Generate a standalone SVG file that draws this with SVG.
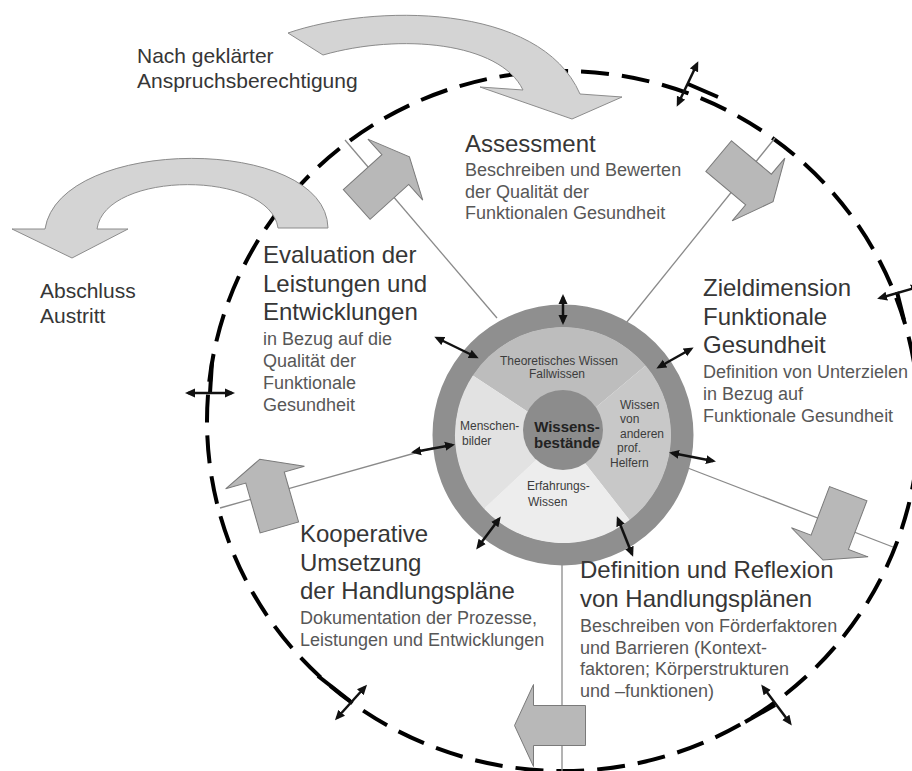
<svg xmlns="http://www.w3.org/2000/svg" width="912" height="771" viewBox="0 0 912 771">
<defs>
<marker id="ah" viewBox="0 0 10 10" refX="7" refY="5" markerWidth="4" markerHeight="4" orient="auto-start-reverse"><path d="M0,0.5 L10,5 L0,9.5 Z" fill="#111"/></marker>
<path id="blk" d="M-26,-20 L26,-20 L26,-41 L45,0 L26,41 L26,20 L-26,20 Z"/>
</defs>
<style>
.t{font-family:"Liberation Sans",Arial,sans-serif}
.h{font-size:24px;fill:#363636}
.s{font-size:18px;fill:#575757}
.o{font-size:21px;fill:#363636}
.k{font-size:12px;fill:#3c3c3c}
.b{font-size:15px;font-weight:bold;fill:#222}
.dash{fill:none;stroke:#000;stroke-width:4;stroke-dasharray:28 13}
.spoke{stroke:#8a8a8a;stroke-width:1.3;fill:none}
.blk{fill:#b8b8b8;stroke:#7a7a7a;stroke-width:1}
.curve{fill:#d4d4d4;stroke:#8c8c8c;stroke-width:1}
.dbl{stroke:#111;stroke-width:2.5;fill:none;marker-start:url(#ah);marker-end:url(#ah)}
.tick{stroke:#000;stroke-width:4;fill:none}
</style>
<rect x="0" y="0" width="912" height="771" fill="#fff"/>

<g id="outer-cycle">
<ellipse cx="563" cy="421" rx="356" ry="350" class="dash"/>
</g>

<g id="connectors">
<line class="spoke" x1="345" y1="140" x2="497" y2="318"/>
<line class="spoke" x1="775" y1="138" x2="622" y2="328"/>
<line class="spoke" x1="893" y1="547" x2="680" y2="465"/>
<line class="spoke" x1="220" y1="508" x2="440" y2="446"/>
<line class="spoke" x1="562" y1="771" x2="562" y2="555"/>
<use href="#blk" class="blk" transform="translate(376,187) rotate(-42)"/>
<use href="#blk" class="blk" transform="translate(738.6,172.8) rotate(40)"/>
<use href="#blk" class="blk" transform="translate(839,518) rotate(110.8)"/>
<use href="#blk" class="blk" transform="translate(559.5,725.5) rotate(180)"/>
<use href="#blk" class="blk" transform="translate(272.2,502.5) rotate(-106)"/>
<path class="curve" d="M288,33 C372,4 540,2 580,94 L622,97 L572,119 L480,87 L523,90 C500,42 400,33 323,55 Z"/>
<path class="curve" d="M328,228 C326,135 60,135 45,229 L12,229 L72,258 L128,229 L97,229 C105,170 270,170 278,228 Z"/>
<line class="tick" x1="688" y1="84" x2="718" y2="97"/>
<line class="tick" x1="897" y1="292" x2="904" y2="320"/>
<line class="tick" x1="210" y1="393" x2="212" y2="362"/>
<line class="tick" x1="350" y1="701" x2="318" y2="676"/>
<line class="tick" x1="775" y1="705" x2="745" y2="722"/>
<line class="dbl" x1="697" y1="64" x2="678" y2="104"/>
<line class="dbl" x1="880" y1="298" x2="918" y2="287"/>
<line class="dbl" x1="188" y1="393" x2="232" y2="393"/>
<line class="dbl" x1="365" y1="687" x2="337" y2="718"/>
<line class="dbl" x1="763" y1="687" x2="790" y2="723"/>
</g>

<g id="n-wissen">
<circle cx="563" cy="435" r="119" fill="none" stroke="#8f8f8f" stroke-width="23"/>
<path d="M563,435 L472.8,375.5 A108,108 0 0 1 645.7,365.6 Z" fill="#bdbdbd"/>
<path d="M563,435 L645.7,365.6 A108,108 0 0 1 629.5,520.1 Z" fill="#c8c8c8"/>
<path d="M563,435 L629.5,520.1 A108,108 0 0 1 484,508.7 Z" fill="#ededed"/>
<path d="M563,435 L484,508.7 A108,108 0 0 1 472.8,375.5 Z" fill="#e2e2e2"/>
<circle cx="563" cy="430" r="40" fill="#8c8c8c"/>
<text class="t k" x="559" y="365" text-anchor="middle">Theoretisches Wissen</text>
<text class="t k" x="557" y="378" text-anchor="middle">Fallwissen</text>
<text class="t k" x="460" y="430">Menschen-</text>
<text class="t k" x="462" y="445">bilder</text>
<text class="t b" x="567" y="432" text-anchor="middle">Wissens-</text>
<text class="t b" x="567" y="448" text-anchor="middle">bestände</text>
<text class="t k" x="620" y="409">Wissen</text>
<text class="t k" x="620" y="423">von</text>
<text class="t k" x="620" y="438">anderen</text>
<text class="t k" x="617" y="452">prof.</text>
<text class="t k" x="610" y="467">Helfern</text>
<text class="t k" x="527" y="490">Erfahrungs-</text>
<text class="t k" x="528" y="506">Wissen</text>
</g>

<g id="inner-links">
<line class="dbl" x1="563" y1="297" x2="563" y2="322"/>
<line class="dbl" x1="437" y1="338" x2="476" y2="357"/>
<line class="dbl" x1="659" y1="367" x2="691" y2="349"/>
<line class="dbl" x1="414" y1="452" x2="452" y2="445"/>
<line class="dbl" x1="672" y1="453" x2="713" y2="461"/>
<line class="dbl" x1="499" y1="519" x2="478" y2="547"/>
<line class="dbl" x1="618" y1="519" x2="632" y2="554"/>
</g>

<g id="n-nach">
<text class="t o" x="137" y="63">Nach geklärter</text>
<text class="t o" x="137" y="88">Anspruchsberechtigung</text>
</g>

<g id="n-abschluss">
<text class="t o" x="40" y="298">Abschluss</text>
<text class="t o" x="40" y="323">Austritt</text>
</g>

<g id="n-assessment">
<text class="t h" x="465" y="152">Assessment</text>
<text class="t s" x="465" y="176">Beschreiben und Bewerten</text>
<text class="t s" x="465" y="198">der Qualität der</text>
<text class="t s" x="465" y="219">Funktionalen Gesundheit</text>
</g>

<g id="n-evaluation">
<text class="t h" x="263" y="263">Evaluation der</text>
<text class="t h" x="263" y="292">Leistungen und</text>
<text class="t h" x="263" y="320">Entwicklungen</text>
<text class="t s" x="263" y="345">in Bezug auf die</text>
<text class="t s" x="263" y="367">Qualität der</text>
<text class="t s" x="263" y="389">Funktionale</text>
<text class="t s" x="263" y="411">Gesundheit</text>
</g>

<g id="n-ziel">
<text class="t h" x="703" y="296">Zieldimension</text>
<text class="t h" x="703" y="325">Funktionale</text>
<text class="t h" x="703" y="353">Gesundheit</text>
<text class="t s" x="703" y="378">Definition von Unterzielen</text>
<text class="t s" x="703" y="400">in Bezug auf</text>
<text class="t s" x="703" y="422">Funktionale Gesundheit</text>
</g>

<g id="n-kooperative">
<text class="t h" x="300" y="542">Kooperative</text>
<text class="t h" x="300" y="571">Umsetzung</text>
<text class="t h" x="300" y="599">der Handlungspläne</text>
<text class="t s" x="300" y="624">Dokumentation der Prozesse,</text>
<text class="t s" x="300" y="646">Leistungen und Entwicklungen</text>
</g>

<g id="n-definition">
<text class="t h" x="580" y="578">Definition und Reflexion</text>
<text class="t h" x="580" y="607">von Handlungsplänen</text>
<text class="t s" x="580" y="632">Beschreiben von Förderfaktoren</text>
<text class="t s" x="580" y="654">und Barrieren (Kontext-</text>
<text class="t s" x="580" y="675">faktoren; Körperstrukturen</text>
<text class="t s" x="580" y="697">und –funktionen)</text>
</g>
</svg>
